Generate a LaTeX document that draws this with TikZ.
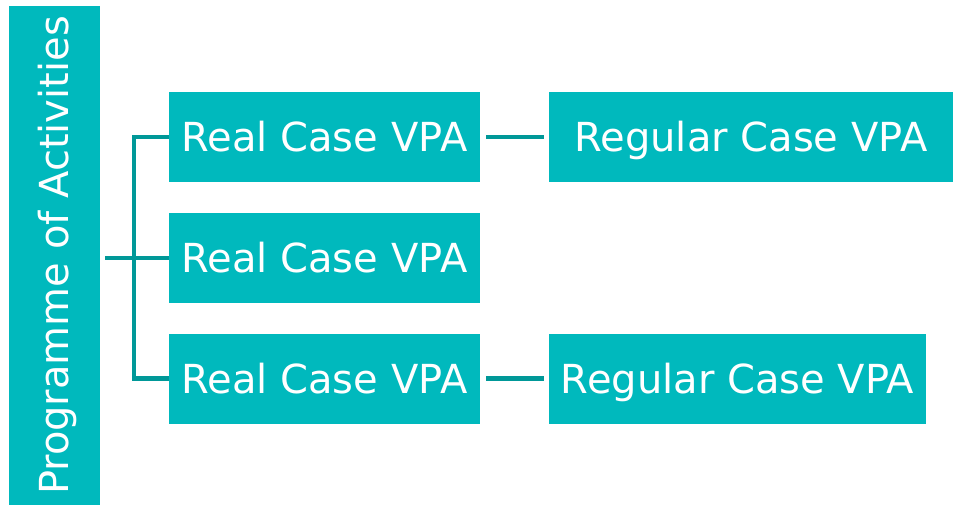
\documentclass[tikz,border=0pt]{standalone}
\usepackage{fontspec}
\setmainfont{DejaVu Sans}
\definecolor{boxfill}{RGB}{0,185,189}
\definecolor{linkline}{RGB}{0,152,152}
\begin{document}
\begin{tikzpicture}[x=1pt,y=-1pt,
  labelfont/.style={font=\fontsize{40}{44}\selectfont},
  vpabox/.style={fill=boxfill,draw=none,text=white,inner sep=0pt,
    text height=29pt,text depth=0pt,labelfont},
  link/.style={draw=linkline,line width=4.5pt}]
\useasboundingbox (0,0) rectangle (954,506);
% root box with vertical title
\node[fill=boxfill,inner sep=0pt,minimum width=91pt,minimum height=499pt] (root) at (54.5,255.5) {};
\node[text=white,labelfont,rotate=90,inner sep=0pt,text height=29pt,text depth=0pt] (roottext) at ([xshift=-1pt]root.center) {Programme of Activities};
% first-level boxes
\node[vpabox,minimum width=311pt,minimum height=90pt] (r1) at (324.5,137) {Real Case VPA};
\node[vpabox,minimum width=311pt,minimum height=90pt] (r2) at (324.5,258) {Real Case VPA};
\node[vpabox,minimum width=311pt,minimum height=90pt] (r3) at (324.5,378.5) {Real Case VPA};
% second-level boxes
\node[vpabox,minimum width=404pt,minimum height=90pt] (g1) at (751,137) {Regular Case VPA};
\node[vpabox,minimum width=377pt,minimum height=90pt] (g3) at (737.5,378.5) {Regular Case VPA};
% bracket connectors
\coordinate (start) at ([xshift=5pt]root.east);
\coordinate (bar) at (134,258);
\draw[link] (start |- r2.west) -- (r2.west);
\draw[link] (r1.west) -- (bar |- r1.west) -- (bar |- r3.west) -- (r3.west);
% side links
\draw[link] ([xshift=6pt]r1.east) -- ([xshift=-5pt]g1.west);
\draw[link] ([xshift=6pt]r3.east) -- ([xshift=-5pt]g3.west);
\end{tikzpicture}
\end{document}
